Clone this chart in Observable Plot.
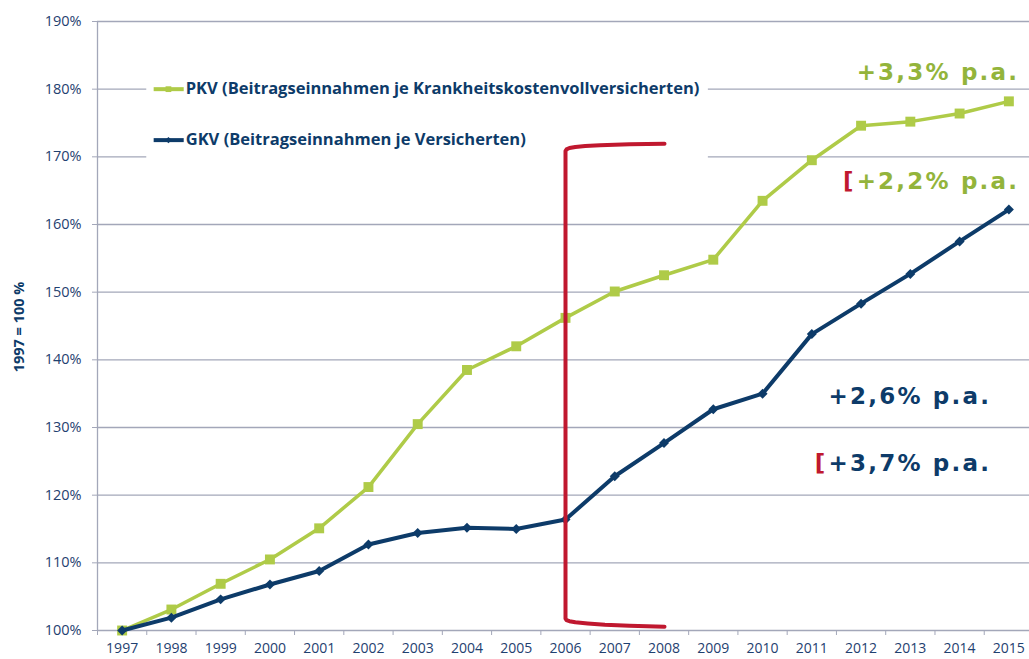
<!DOCTYPE html>
<html>
<head>
<meta charset="utf-8">
<script src="https://cdn.jsdelivr.net/npm/d3@7"></script>
<script src="https://cdn.jsdelivr.net/npm/@observablehq/plot@0.6"></script>
<style>
  html, body { margin: 0; padding: 0; background: #ffffff; }
  #chart svg { display: block; }
</style>
</head>
<body>
<div id="chart"></div>
<script>
// ---- data ----
const years = [1997, 1998, 1999, 2000, 2001, 2002, 2003, 2004, 2005, 2006, 2007, 2008, 2009, 2010, 2011, 2012, 2013, 2014, 2015];
const pkv = [100, 103.1, 106.9, 110.5, 115.1, 121.2, 130.5, 138.5, 142.0, 146.2, 150.1, 152.5, 154.8, 163.5, 169.5, 174.6, 175.2, 176.4, 178.2];
const gkv = [100, 101.9, 104.6, 106.8, 108.8, 112.7, 114.4, 115.2, 115.0, 116.4, 122.8, 127.7, 132.7, 135.0, 143.8, 148.3, 152.7, 157.5, 162.2];
const yTicks = [100, 110, 120, 130, 140, 150, 160, 170, 180, 190];
const pkvLabel = "PKV (Beitragseinnahmen je Krankheitskostenvollversicherten)";
const gkvLabel = "GKV (Beitragseinnahmen je Versicherten)";
const yTitle = "1997 = 100 %";
const annotations = [
  {text: "+3,3% p.a.", series: "PKV", x: 2011.91, y: 182.4, bracket: false},
  {text: "+2,2% p.a.", series: "PKV", x: 2011.91, y: 166.3, bracket: true},
  {text: "+2,6% p.a.", series: "GKV", x: 2011.34, y: 134.5, bracket: false},
  {text: "+3,7% p.a.", series: "GKV", x: 2011.34, y: 124.6, bracket: true}
];
// period bracket drawn around 2006
const bracketPts = [
  [2008.01,171.93],[2007.3,171.85],[2006.7,171.72],[2006.4,171.6],[2006.2,171.46],[2006.08,171.3],[2006.02,171.1],[2006.0,170.85],
  [2006.0,101.75],[2006.02,101.55],[2006.08,101.38],[2006.2,101.22],[2006.45,101.05],[2006.8,100.86],[2007.3,100.7],[2008.01,100.55]
];

// ---- styling ----
const green = "#afcb48";
const greenText = "#93b43b";
const navy = "#0d3b69";
const tickColor = "#1f4170";
const grid = "#a3a7b9";
const red = "#c0182f";

const rows = [];
years.forEach((yr, i) => {
  rows.push({year: yr, value: pkv[i], series: "PKV"});
  rows.push({year: yr, value: gkv[i], series: "GKV"});
});
const boundaries = [...years.map(y => y - 0.5), years[years.length - 1] + 0.5];

const legend = [
  {series: "PKV", x1: 1997.64, x2: 1998.25, xm: 1997.94, y: 180.0, label: pkvLabel, color: green, symbol: "square", r: 5.6},
  {series: "GKV", x1: 1997.64, x2: 1998.25, xm: 1997.94, y: 172.47, label: gkvLabel, color: navy, symbol: "diamond2", r: 4.5}
];

const annFont = "'DejaVu Sans', sans-serif";

const chart = Plot.plot({
  width: 1029,
  height: 659,
  marginLeft: 97,
  marginRight: 0,
  marginTop: 21,
  marginBottom: 29,
  style: {fontFamily: "'Open Sans', sans-serif", background: "#ffffff"},
  x: {domain: [1996.5, 2015.5], range: [97, 1033]},
  y: {domain: [100, 190], range: [630, 21]},
  marks: [
    Plot.ruleY(yTicks, {stroke: grid, strokeWidth: 1.3}),
    // legend background hiding grid lines
    Plot.rect([0], {x1: 1997.5, x2: 2008.9, y1: 166, y2: 186, fill: "#ffffff"}),
    Plot.ruleX([1996.5], {stroke: grid, strokeWidth: 1.3}),
    Plot.axisY({ticks: yTicks, tickFormat: d => d + "%", tickSize: 5, tickPadding: 11, stroke: grid, fill: tickColor, fontSize: 14.5, label: null}),
    Plot.axisX({ticks: boundaries, tickSize: 5, tickFormat: () => "", stroke: grid, label: null}),
    Plot.axisX({ticks: years, tickSize: 0, tickPadding: 13, tickFormat: d => String(d), fill: tickColor, fontSize: 14, label: null}),
    Plot.text([yTitle], {frameAnchor: "left", textAnchor: "middle", dx: -78, dy: 1, rotate: -90, fill: navy, fontSize: 14.5, fontWeight: "bold"}),
    // data lines
    Plot.line(rows.filter(d => d.series === "PKV"), {x: "year", y: "value", stroke: green, strokeWidth: 3.5}),
    Plot.dot(rows.filter(d => d.series === "PKV"), {x: "year", y: "value", symbol: "square", r: 5.6, fill: green}),
    Plot.line(rows.filter(d => d.series === "GKV"), {x: "year", y: "value", stroke: navy, strokeWidth: 4}),
    Plot.dot(rows.filter(d => d.series === "GKV"), {x: "year", y: "value", symbol: "diamond2", r: 4.5, fill: navy}),
    // period bracket
    Plot.line(bracketPts, {x: d => d[0], y: d => d[1], stroke: red, strokeWidth: 4, curve: "linear", strokeLinejoin: "round"}),
    // legend
    Plot.link(legend, {x1: "x1", x2: "x2", y1: "y", y2: "y", stroke: "color", strokeWidth: 4}),
    Plot.dot(legend, {x: "xm", y: "y", symbol: "symbol", r: "r", fill: "color"}),
    Plot.text(legend, {x: "x2", y: "y", text: "label", textAnchor: "start", dx: 2, fill: navy, fontSize: 16.5, fontWeight: "bold"}),
    // annotations
    Plot.text(annotations, {x: "x", y: "y", text: "text", textAnchor: "start", fill: d => d.series === "PKV" ? greenText : navy, fontSize: 23, fontWeight: "bold", fontFamily: annFont}),
    Plot.text(annotations.filter(d => d.bracket), {x: "x", y: "y", text: () => "[", textAnchor: "end", dx: -1, fill: red, fontSize: 23, fontWeight: "bold", fontFamily: annFont})
  ]
});
// letter spacing for the growth annotations
d3.select(chart).selectAll("g[font-family] text").attr("letter-spacing", "2.2px");
document.getElementById("chart").appendChild(chart);
</script>
</body>
</html>
